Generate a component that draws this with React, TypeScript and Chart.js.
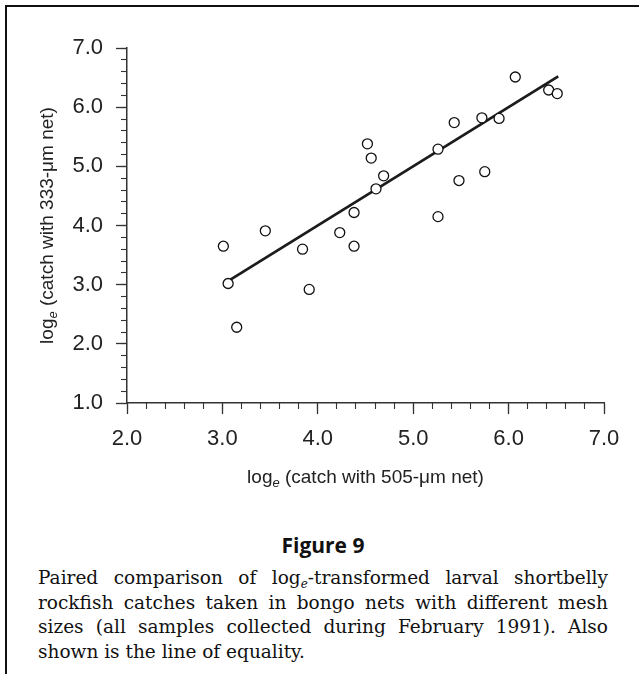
import React, { useEffect, useRef } from "react";
import { Chart, registerables } from "chart.js";

Chart.register(...registerables);

// log_e catch in the 505-µm net (x) vs the 333-µm net (y), February 1991
const catch505 = [
  3.01, 3.06, 3.15, 3.45, 3.84, 3.91, 4.23, 4.38, 4.38, 4.52, 4.56, 4.61,
  4.69, 5.26, 5.26, 5.43, 5.48, 5.72, 5.75, 5.9, 6.07, 6.42, 6.51,
];
const catch333 = [
  3.65, 3.02, 2.28, 3.91, 3.6, 2.92, 3.88, 4.22, 3.65, 5.38, 5.14, 4.62,
  4.84, 5.29, 4.15, 5.74, 4.76, 5.82, 4.91, 5.81, 6.51, 6.29, 6.23,
];

// Line of equality (y = x) over the span of the samples
const equalityEnds = [3.08, 6.52];

const axisMin = [2, 1]; // x, y
const axisMax = [7, 7];
const majorStep = 1;
const minorStep = 0.2;

const xTitleRest = " (catch with 505-\u03BCm net)";
const yTitleRest = " (catch with 333-\u03BCm net)";

const SANS = "'Liberation Sans', Arial, Helvetica, sans-serif";
const INK = "#222";

// Draws "log" with an italic subscript e, followed by the rest of the title
function drawLogTitle(
  ctx: CanvasRenderingContext2D,
  rest: string,
  cx: number,
  cy: number,
  rotate: boolean
) {
  const main = `19px ${SANS}`;
  const sub = `italic 13px ${SANS}`;
  ctx.save();
  ctx.translate(cx, cy);
  if (rotate) ctx.rotate(-Math.PI / 2);
  ctx.fillStyle = INK;
  ctx.textBaseline = "alphabetic";
  ctx.textAlign = "left";
  ctx.font = main;
  const w1 = ctx.measureText("log").width;
  const w3 = ctx.measureText(rest).width;
  ctx.font = sub;
  const w2 = ctx.measureText("e").width;
  let x = -(w1 + w2 + w3) / 2;
  const base = 7;
  ctx.font = main;
  ctx.fillText("log", x, base);
  x += w1;
  ctx.font = sub;
  ctx.fillText("e", x, base + 4);
  x += w2;
  ctx.font = main;
  ctx.fillText(rest, x, base);
  ctx.restore();
}

const axisTitles = {
  id: "axisTitles",
  afterDraw(chart: any) {
    const { ctx, chartArea } = chart;
    const midX = (chartArea.left + chartArea.right) / 2;
    const midY = (chartArea.top + chartArea.bottom) / 2;
    drawLogTitle(ctx, xTitleRest, midX, chartArea.bottom + 73, false);
    drawLogTitle(ctx, yTitleRest, 46, midY, true);
  },
};

function ScatterChart() {
  const ref = useRef<HTMLCanvasElement | null>(null);

  useEffect(() => {
    if (!ref.current) return;
    const points = catch505.map((x, i) => ({ x, y: catch333[i] }));
    const line = equalityEnds.map((v) => ({ x: v, y: v }));

    const majorGrid = {
      drawOnChartArea: false,
      drawTicks: true,
      tickLength: 11,
      tickColor: "#333",
      tickWidth: 1.3,
    };
    const minorGrid = { ...majorGrid, tickLength: 6, tickWidth: 1.1 };
    const tickFont = { family: SANS, size: 22 };

    const chart = new Chart(ref.current, {
      type: "scatter",
      data: {
        datasets: [
          {
            data: points,
            order: 0,
            pointRadius: 5,
            pointHoverRadius: 5,
            pointBorderWidth: 1.3,
            borderColor: "#111",
            backgroundColor: "#fff",
            pointBackgroundColor: "#fff",
            pointBorderColor: "#111",
          },
          {
            data: line,
            order: 1,
            showLine: true,
            pointRadius: 0,
            borderColor: "#1c1c1c",
            borderWidth: 2.8,
          },
        ],
      },
      options: {
        animation: false,
        responsive: false,
        events: [],
        layout: { padding: { left: 0, top: 48, right: 35, bottom: 0 } },
        plugins: {
          legend: { display: false },
          tooltip: { enabled: false },
        },
        scales: {
          x: {
            type: "linear",
            position: "bottom",
            weight: 1,
            min: axisMin[0],
            max: axisMax[0],
            grid: majorGrid,
            border: { display: true, color: "#333", width: 1.5 },
            ticks: {
              stepSize: majorStep,
              color: INK,
              font: tickFont,
              padding: 12,
              maxRotation: 0,
              autoSkip: false,
              callback: (v: any) => Number(v).toFixed(1),
            },
            afterFit: (s: any) => {
              s.height = 97;
            },
          },
          xMinor: {
            type: "linear",
            position: "bottom",
            weight: 0,
            min: axisMin[0],
            max: axisMax[0],
            grid: minorGrid,
            border: { display: false },
            ticks: { stepSize: minorStep, display: false, autoSkip: false },
            afterFit: (s: any) => {
              s.height = 0;
            },
          },
          y: {
            type: "linear",
            position: "left",
            weight: 1,
            min: axisMin[1],
            max: axisMax[1],
            grid: majorGrid,
            border: { display: true, color: "#333", width: 1.5 },
            ticks: {
              stepSize: majorStep,
              color: INK,
              font: tickFont,
              padding: 13,
              autoSkip: false,
              callback: (v: any) => Number(v).toFixed(1),
            },
            afterFit: (s: any) => {
              s.width = 127;
            },
          },
          yMinor: {
            type: "linear",
            position: "left",
            weight: 0,
            min: axisMin[1],
            max: axisMax[1],
            grid: minorGrid,
            border: { display: false },
            ticks: { stepSize: minorStep, display: false, autoSkip: false },
            afterFit: (s: any) => {
              s.width = 0;
            },
          },
        },
      } as any,
      plugins: [axisTitles],
    });
    return () => chart.destroy();
  }, []);

  return (
    <canvas
      ref={ref}
      width={639}
      height={500}
      style={{ position: "absolute", left: 0, top: 0, width: 639, height: 500 }}
    />
  );
}

const sub = (
  <sub
    style={{
      fontStyle: "italic",
      fontSize: 12,
      verticalAlign: "-4px",
      lineHeight: 0,
    }}
  >
    e
  </sub>
);

const justified: React.CSSProperties = {
  textAlign: "justify",
  textAlignLast: "justify",
};

export default function App() {
  useEffect(() => {
    document.body.style.margin = "0";
  }, []);

  return (
    <div
      style={{
        position: "relative",
        width: 639,
        height: 674,
        background: "#fff",
        overflow: "hidden",
      }}
    >
      <ScatterChart />
      {/* frame rules along the left and top edges */}
      <div
        style={{
          position: "absolute",
          left: 5,
          top: 5,
          width: 2,
          height: 669,
          background: "#111",
          zIndex: 2,
        }}
      />
      <div
        style={{
          position: "absolute",
          left: 5,
          top: 5,
          width: 634,
          height: 2,
          background: "#111",
          zIndex: 2,
        }}
      />
      <div
        style={{
          position: "absolute",
          left: 38,
          width: 570,
          top: 531,
          textAlign: "center",
          fontFamily: "'Open Sans', 'Noto Sans', sans-serif",
          fontWeight: 700,
          fontSize: 21,
          lineHeight: "28px",
          color: "#111",
        }}
      >
        Figure 9
      </div>
      <div
        style={{
          position: "absolute",
          left: 38,
          width: 570,
          top: 566,
          fontFamily: "'DejaVu Serif', 'Liberation Serif', serif",
          fontSize: 18.5,
          lineHeight: "24.5px",
          color: "#111",
        }}
      >
        <div style={justified}>
          Paired comparison of log{sub}-transformed larval shortbelly
        </div>
        <div style={justified}>
          rockfish catches taken in bongo nets with different mesh
        </div>
        <div style={justified}>
          sizes (all samples collected during February 1991). Also
        </div>
        <div>shown is the line of equality.</div>
      </div>
    </div>
  );
}
